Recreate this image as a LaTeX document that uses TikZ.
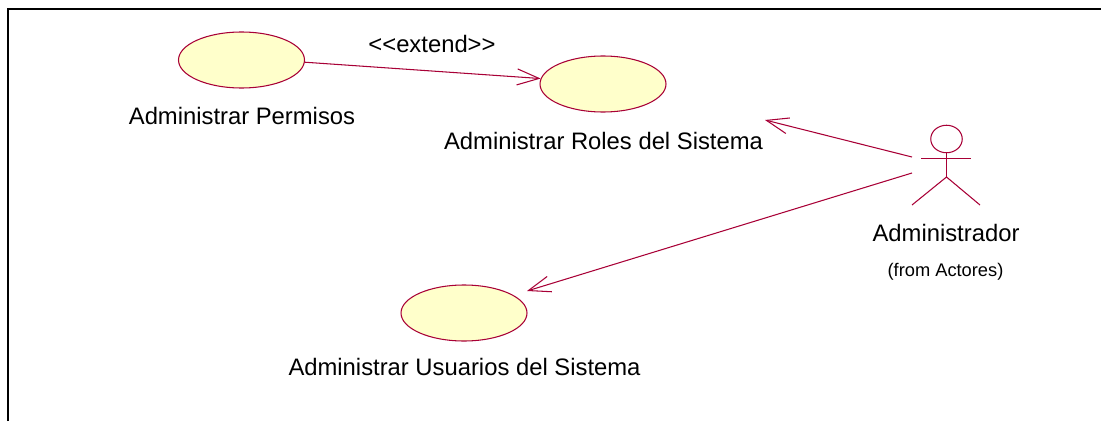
\documentclass[tikz,border=0pt]{standalone}
\usepackage{fontspec}
\setmainfont{Liberation Sans}
\usetikzlibrary{arrows.meta, shapes.geometric}
\definecolor{rosered}{HTML}{A80036}
\definecolor{roseyellow}{HTML}{FFFFCB}
\tikzset{
  >={Straight Barb[length=.44cm,width=.32cm]},
  usecase/.style={draw=rosered, fill=roseyellow, ellipse, line width=.6pt, inner sep=0, minimum width=2.52cm, minimum height=1.12cm},
  bigtext/.style={font=\fontsize{13.55}{16}\selectfont, text=black, inner sep=0},
  smalltext/.style={font=\fontsize{10.4}{12}\selectfont, text=black, inner sep=0},
  roseline/.style={draw=rosered, line width=.6pt}
}
\begin{document}
\begin{tikzpicture}
      \useasboundingbox (0, 0) rectangle (22.02, 8.42);
      \draw [line width=1.5pt] (.16, 0) -- (.16, 8.24) -- (22.02, 8.24);

      \node [usecase] (permisos) at (4.83, 7.22) {};
      \node [usecase] (roles) at (12.06, 6.74) {};
      \node [usecase] (usuarios) at (9.28, 2.16) {};

      \node [bigtext] (permisoslabel) at (4.84, 6.10) {Administrar Permisos};
      \node [bigtext] (roleslabel) at (12.07, 5.60) {Administrar Roles del Sistema};
      \node [bigtext] (usuarioslabel) at (9.29, 1.08) {Administrar Usuarios del Sistema};
      \node [bigtext] (extendlabel) at (8.64, 7.54) {{<}{<}extend{>}{>}};
      \node [bigtext] (actorlabel) at (18.92, 3.76) {Administrador};
      \node [smalltext] (actorfrom) at (18.91, 2.98) {(from Actores)};

      % actor
      \node [roseline, ellipse, inner sep=0, minimum width=.63cm, minimum height=.55cm] (head) at (18.93, 5.64) {};
      \coordinate (armleft) at (18.42, 5.25);
      \coordinate (armright) at (19.42, 5.25);
      \coordinate (hip) at (18.93, 4.88);
      \coordinate (footleft) at (18.24, 4.32);
      \coordinate (footright) at (19.60, 4.32);
      \draw [roseline] (armleft) -- (armright);
      \draw [roseline] (head) -- (hip);
      \draw [roseline] (footleft) -- (hip) -- (footright);

      \coordinate (fromactorup) at (18.24, 5.28);
      \coordinate (fromactordown) at (18.24, 4.96);
      \coordinate (rolesend) at (15.30, 6.02);
      \coordinate (usuariosend) at (10.54, 2.60);

      \draw [roseline, ->] (permisos.-2) -- (roles.175);
      \draw [roseline, ->] (fromactorup) -- (rolesend);
      \draw [roseline, ->] (fromactordown) -- (usuariosend);
    \end{tikzpicture}
\end{document}
